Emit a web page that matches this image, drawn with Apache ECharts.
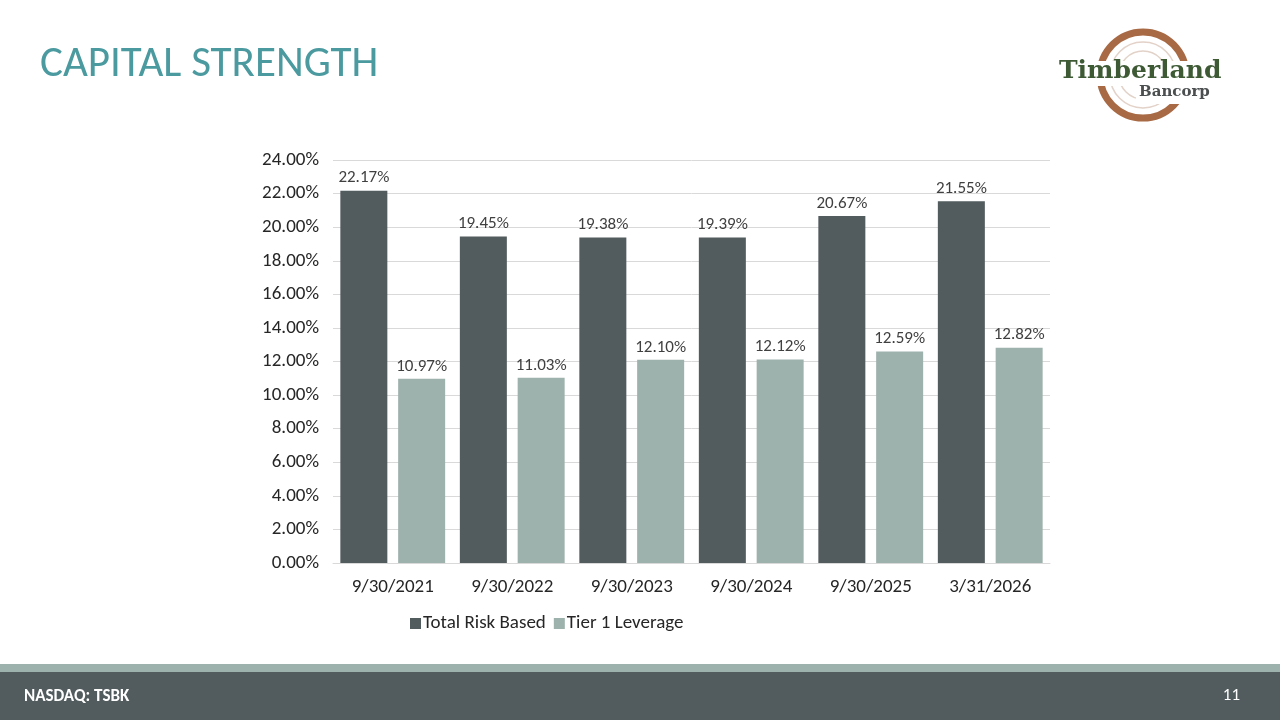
<!DOCTYPE html>
<html>
<head>
<meta charset="utf-8">
<title>Capital Strength</title>
<script src="https://cdn.jsdelivr.net/npm/echarts@6/dist/echarts.min.js"></script>
<style>
    html, body { margin: 0; padding: 0; background: #fff; }
    #chart { width: 1280px; height: 720px; }
</style>
</head>
<body>
<div id="chart"></div>
<script>
// chart values
var categories = ['9/30/2021', '9/30/2022', '9/30/2023', '9/30/2024', '9/30/2025', '3/31/2026'];
var totalRiskBased = [22.17, 19.45, 19.38, 19.39, 20.67, 21.55];
var tier1Leverage = [10.97, 11.03, 12.10, 12.12, 12.59, 12.82];
var seriesNames = ['Total Risk Based', 'Tier 1 Leverage'];

var font = 'Calibri, Carlito, Lato, sans-serif';
var darkColor = '#525b5d';
var lightColor = '#9eb2ad';

var myChart = echarts.init(document.getElementById('chart'));

function labelFmt(p) {
    return p.value.toFixed(2) + '%';
}

var option = {
    backgroundColor: '#ffffff',
    animation: false,
    title: {
        text: 'CAPITAL STRENGTH',
        left: 35,
        top: 39,
        textStyle: {
            color: '#4a9aa0',
            fontFamily: font,
            fontWeight: 'normal',
            fontSize: 43
        }
    },
    legend: {
        bottom: 82,
        left: 405,
        itemWidth: 11,
        itemHeight: 11,
        itemGap: 8,
        icon: 'rect',
        data: seriesNames,
        textStyle: {
            color: '#262626',
            fontFamily: font,
            fontSize: 19,
            padding: [0, 0, 0, -3]
        }
    },
    grid: {
        left: 333,
        right: 230,
        top: 160,
        bottom: 157,
        containLabel: false
    },
    xAxis: {
        type: 'category',
        data: categories,
        axisLine: { lineStyle: { color: '#d9d9d9' } },
        axisTick: { show: false },
        axisLabel: {
            color: '#262626',
            fontFamily: font,
            fontSize: 19,
            margin: 15
        }
    },
    yAxis: {
        type: 'value',
        min: 0,
        max: 24,
        interval: 2,
        axisLine: { show: false },
        axisTick: { show: false },
        splitLine: { lineStyle: { color: '#d9d9d9' } },
        axisLabel: {
            color: '#262626',
            fontFamily: font,
            fontSize: 19,
            margin: 14,
            formatter: function (v) { return v.toFixed(2) + '%'; }
        }
    },
    series: [
        {
            name: seriesNames[0],
            type: 'bar',
            data: totalRiskBased,
            barWidth: 47,
            barGap: '23%',
            itemStyle: { color: darkColor },
            label: {
                show: true,
                position: 'top',
                distance: 4,
                color: '#404040',
                fontFamily: font,
                fontSize: 17,
                formatter: labelFmt
            }
        },
        {
            name: seriesNames[1],
            type: 'bar',
            data: tier1Leverage,
            barWidth: 47,
            itemStyle: { color: lightColor },
            label: {
                show: true,
                position: 'top',
                distance: 4,
                color: '#404040',
                fontFamily: font,
                fontSize: 17,
                formatter: labelFmt
            }
        }
    ],
    graphic: [
        // footer bands
        { type: 'rect', shape: { x: 0, y: 664, width: 1280, height: 8 }, style: { fill: lightColor } },
        { type: 'rect', shape: { x: 0, y: 672, width: 1280, height: 48 }, style: { fill: darkColor } },
        {
            type: 'text', left: 24, top: 688,
            style: { text: 'NASDAQ: TSBK', fill: '#ffffff', font: 'bold 17px ' + font }
        },
        {
            type: 'text', right: 40, top: 687,
            style: { text: '11', fill: '#ffffff', font: '17px ' + font }
        },
        // logo
        {
            type: 'circle', shape: { cx: 1143, cy: 75, r: 43 },
            style: { fill: 'none', stroke: '#a86a45', lineWidth: 7 }
        },
        {
            type: 'circle', shape: { cx: 1143, cy: 75, r: 33 },
            style: { fill: 'none', stroke: '#e2d2c8', lineWidth: 1.5 }
        },
        {
            type: 'circle', shape: { cx: 1143, cy: 75, r: 24 },
            style: { fill: 'none', stroke: '#e2d2c8', lineWidth: 1.5 }
        },
        {
            type: 'rect', shape: { x: 1058, y: 61, width: 166, height: 25 },
            style: { fill: '#ffffff' }
        },
        {
            type: 'text', left: 1059, top: 59,
            style: { text: 'Timberland', fill: '#3e5a35', font: 'bold 25px "DejaVu Serif", serif' }
        },
        {
            type: 'rect', shape: { x: 1136, y: 86, width: 80, height: 18 },
            style: { fill: '#ffffff' }
        },
        {
            type: 'text', left: 1139, top: 85,
            style: { text: 'Bancorp', fill: '#4b4f50', font: 'bold 15px "DejaVu Serif", serif' }
        }
    ]
};

myChart.setOption(option);
</script>
</body>
</html>
